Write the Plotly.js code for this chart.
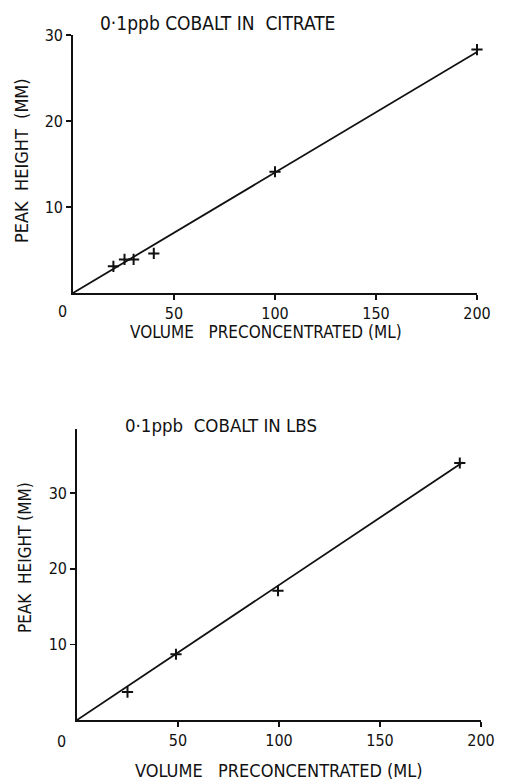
<!DOCTYPE html>
<html>
<head>
<meta charset="utf-8">
<script src="https://cdn.plot.ly/plotly-3.0.1.min.js"></script>
<style>html,body{margin:0;padding:0;background:#fff;}#plot{width:506px;height:782px;}</style>
</head>
<body>
<div id="plot"></div>
<script>
// Top chart: 0.1 ppb cobalt in citrate
var citrateVolume = [20, 25.5, 30, 40, 100, 200];
var citratePeak = [3.1, 3.9, 3.9, 4.6, 14.1, 28.3];
var citrateFitVolume = [0, 207];
var citrateFitPeak = [0, 29.0];

// Bottom chart: 0.1 ppb cobalt in LBS
var lbsVolume = [25, 49, 99.5, 189.5];
var lbsPeak = [3.7, 8.7, 17.1, 34.0];
var lbsFitVolume = [0, 191];
var lbsFitPeak = [0, 34.1];

var xTicks = [50, 100, 150, 200];
var xTickText = ['50', '100', '150', '200'];
var citrateYTicks = [10, 20, 30];
var lbsYTicks = [10, 20, 30];

var topTitle = '0·1ppb COBALT IN  CITRATE';
var bottomTitle = '0·1ppb  COBALT IN LBS';
var yTitleTop = 'PEAK  HEIGHT  (MM)';
var yTitleBottom = 'PEAK  HEIGHT (MM)';
var xTitle = 'VOLUME   PRECONCENTRATED (ML)';

var FONT = "'Liberation Sans Narrow', 'DejaVu Sans Condensed', 'Roboto Condensed', 'Liberation Sans', sans-serif";
var INK = '#111';

function markers(x, y, xa, ya) {
  return {x: x, y: y, xaxis: xa, yaxis: ya, mode: 'markers', type: 'scatter', cliponaxis: false,
    marker: {symbol: 'cross-thin', size: 8, color: INK, line: {color: INK, width: 2}}, hoverinfo: 'skip'};
}
function fit(x, y, xa, ya) {
  return {x: x, y: y, xaxis: xa, yaxis: ya, mode: 'lines', type: 'scatter',
    line: {color: INK, width: 1.8}, hoverinfo: 'skip'};
}

var data = [
  fit(citrateFitVolume, citrateFitPeak, 'x', 'y'),
  markers(citrateVolume, citratePeak, 'x', 'y'),
  fit(lbsFitVolume, lbsFitPeak, 'x2', 'y2'),
  markers(lbsVolume, lbsPeak, 'x2', 'y2')
];

var W = 506, H = 782;
function px(v) { return v / W; }
function py(v) { return 1 - v / H; }

var tickFont = {family: FONT, size: 16, color: INK};

function xAx(domain, anchor, range) {
  return {domain: domain, anchor: anchor, range: range, showgrid: false, zeroline: false,
    showline: true, linecolor: INK, linewidth: 1.8, ticks: 'outside', ticklen: 5, tickwidth: 1.8, tickcolor: INK,
    tickvals: xTicks, ticktext: xTickText, tickfont: tickFont, fixedrange: true};
}
function yAx(domain, anchor, range, tv) {
  return {domain: domain, anchor: anchor, range: range, showgrid: false, zeroline: false,
    showline: true, linecolor: INK, linewidth: 1.8, ticks: 'outside', ticklen: 5, tickwidth: 1.8, tickcolor: INK,
    tickvals: tv, tickfont: tickFont, fixedrange: true};
}
function overlayX(base, over, anchor) {
  return {overlaying: over, anchor: anchor, domain: base.domain, range: base.range, showgrid: false, zeroline: false,
    showline: false, ticks: 'inside', ticklen: 5, tickwidth: 1.8, tickcolor: INK, tickvals: xTicks,
    showticklabels: false, fixedrange: true};
}
function overlayY(base, over, anchor) {
  return {overlaying: over, anchor: anchor, domain: base.domain, range: base.range, showgrid: false, zeroline: false,
    showline: false, ticks: 'inside', ticklen: 5, tickwidth: 1.8, tickcolor: INK, tickvals: base.tickvals,
    showticklabels: false, fixedrange: true};
}

var xa1 = xAx([px(73), px(477)], 'y', [0, 200]);
var ya1 = yAx([py(293), py(35)], 'x', [0, 30], citrateYTicks);
var xa2 = xAx([px(77), px(481)], 'y2', [0, 200]);
var ya2 = yAx([py(720), py(429)], 'x2', [0, 38.5], lbsYTicks);

function ann(text, x, y, angle, size) {
  return {text: text, x: px(x), y: py(y), xref: 'paper', yref: 'paper', showarrow: false,
    textangle: angle || 0, xanchor: 'center', yanchor: 'middle',
    font: {family: FONT, size: size || 17, color: INK}};
}

var layout = {
  width: W, height: H,
  margin: {l: 0, r: 0, t: 0, b: 0},
  paper_bgcolor: '#fff', plot_bgcolor: 'rgba(0,0,0,0)',
  showlegend: false,
  xaxis: xa1, yaxis: ya1, xaxis2: xa2, yaxis2: ya2,
  xaxis3: overlayX(xa1, 'x', 'y'),
  yaxis3: overlayY(ya1, 'y', 'x'),
  xaxis4: overlayX(xa2, 'x2', 'y2'),
  yaxis4: overlayY(ya2, 'y2', 'x2'),
  annotations: [
    ann(topTitle, 217, 23, 0, 19),
    ann(bottomTitle, 221, 425, 0, 18.5),
    ann(yTitleTop, 22, 161, -90, 18),
    ann(yTitleBottom, 25, 558, -90, 17),
    ann(xTitle, 266, 332),
    ann(xTitle, 279, 770, 0, 18),
    ann('0', 62, 311, 0, 16),
    ann('0', 61, 741, 0, 16)
  ]
};

Plotly.newPlot('plot', data, layout, {staticPlot: true, displayModeBar: false});
</script>
</body>
</html>
